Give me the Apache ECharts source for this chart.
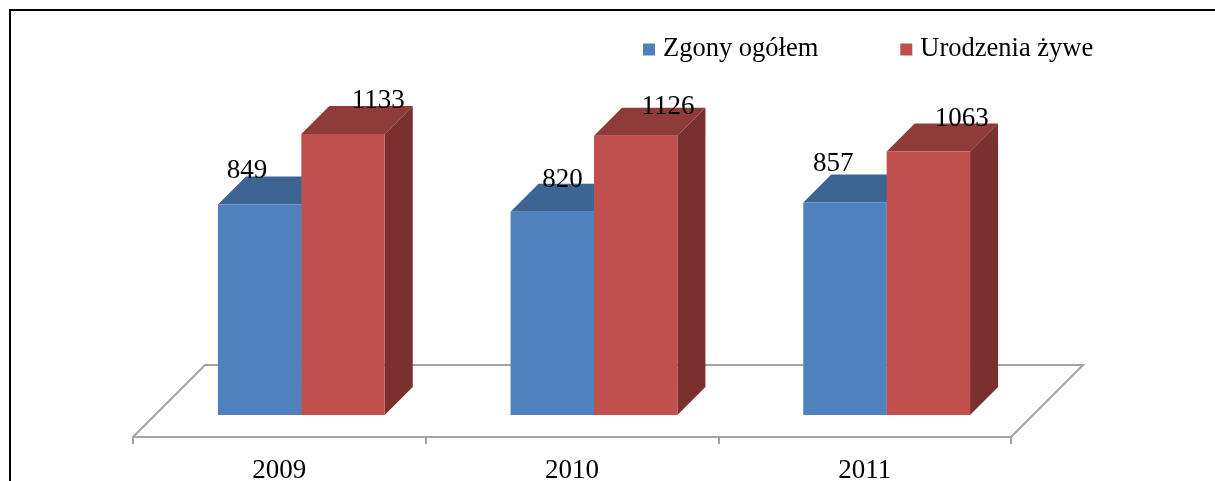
<!DOCTYPE html>
<html>
<head>
<meta charset="utf-8">
<style>
  html, body { margin: 0; padding: 0; background: #fff; }
  #chart { width: 1215px; height: 481px; }
</style>
<script src="https://cdn.jsdelivr.net/npm/echarts@6/dist/echarts.min.js"></script>
</head>
<body>
<div id="chart"></div>
<script>
// dane
var years = ['2009', '2010', '2011'];
var zgony = [849, 820, 857];
var urodzenia = [1133, 1126, 1063];

// przesuniecia etykiet wzgledem lewego gornego rogu slupka
var zgonyLabelShift = [[29, -34], [52, -32], [30, -39]];
var urodzeniaLabelShift = [[77, -33], [74, -29], [75, -32]];

var FONT = '"Liberation Serif", "Times New Roman", serif';
var FLOOR_DEPTH = 72;   // glebokosc podlogi
var BAR_INSET = 22;     // odleglosc slupka od przedniej krawedzi
var BAR_DEPTH = 28;     // glebokosc slupka
var BAR_BAND = 0.285;   // szerokosc slupka jako czesc kategorii

function barSeries(name, values, front, top, side, slot, shifts) {
  return {
    name: name,
    type: 'custom',
    coordinateSystem: 'cartesian2d',
    itemStyle: { color: front },
    encode: { x: 0, y: 1 },
    data: values.map(function (v, i) { return [i, v]; }),
    z: 2 + slot,
    renderItem: function (params, api) {
      var i = api.value(0);
      var w = api.size([1, 0])[0] * BAR_BAND;
      var base = api.coord([i, 0]);
      var head = api.coord([i, api.value(1)]);
      var x0 = base[0] + BAR_INSET - w + slot * w;
      var x1 = x0 + w;
      var y0 = base[1] - BAR_INSET;
      var y1 = head[1] - BAR_INSET;
      var d = BAR_DEPTH;
      return {
        type: 'group',
        children: [
          {
            type: 'polygon',
            shape: { points: [[x1, y0], [x1 + d, y0 - d], [x1 + d, y1 - d], [x1, y1]] },
            style: { fill: side }
          },
          {
            type: 'polygon',
            shape: { points: [[x0, y1], [x0 + d, y1 - d], [x1 + d, y1 - d], [x1, y1]] },
            style: { fill: top }
          },
          {
            type: 'rect',
            shape: { x: x0, y: y1, width: w, height: y0 - y1 },
            style: { fill: front }
          },
          {
            type: 'text',
            z2: 50,
            style: {
              x: x0 + shifts[i][0],
              y: y1 + shifts[i][1],
              text: String(api.value(1)),
              font: '27px ' + FONT,
              fill: '#000',
              align: 'center',
              verticalAlign: 'middle'
            }
          }
        ]
      };
    }
  };
}

var floorSeries = {
  name: 'floor',
  type: 'custom',
  coordinateSystem: 'cartesian2d',
  silent: true,
  data: [[0, 0]],
  z: 1,
  renderItem: function (params) {
    var c = params.coordSys;
    var yb = c.y + c.height;
    return {
      type: 'polyline',
      shape: {
        points: [
          [c.x, yb],
          [c.x + FLOOR_DEPTH, yb - FLOOR_DEPTH],
          [c.x + c.width + FLOOR_DEPTH, yb - FLOOR_DEPTH],
          [c.x + c.width, yb]
        ]
      },
      style: { fill: null, stroke: '#a3a3a3', lineWidth: 2 }
    };
  }
};

var chart = echarts.init(document.getElementById('chart'), null, { renderer: 'canvas' });

var option = {
  animation: false,
  backgroundColor: '#fff',
  legend: {
    data: ['Zgony ogółem', 'Urodzenia żywe'],
    left: 643,
    top: 36,
    padding: 0,
    icon: 'rect',
    itemWidth: 12,
    itemHeight: 12,
    itemGap: 82,
    textStyle: { fontFamily: FONT, fontSize: 26.5, color: '#000', padding: [0, 0, 0, 3] }
  },
  grid: { left: 133, top: 89.8, width: 878, height: 347.2, outerBoundsMode: 'none' },
  xAxis: {
    type: 'category',
    data: years,
    axisLine: { lineStyle: { color: '#a3a3a3', width: 2 } },
    axisTick: { show: true, length: 7, lineStyle: { color: '#a3a3a3', width: 2 } },
    axisLabel: { fontFamily: FONT, fontSize: 27, color: '#000', margin: 20 }
  },
  yAxis: {
    type: 'value',
    min: 0,
    max: 1400,
    show: false,
    splitLine: { show: false }
  },
  graphic: [
    {
      // ramka ucieta z prawej i od dolu
      type: 'polyline',
      shape: { points: [[10, 481], [10, 10], [1215, 10]] },
      style: { fill: null, stroke: '#000', lineWidth: 2 }
    }
  ],
  series: [
    floorSeries,
    barSeries('Zgony ogółem', zgony, '#4f81bd', '#3d6594', '#335478', 0, zgonyLabelShift),
    barSeries('Urodzenia żywe', urodzenia, '#c0504d', '#8f3b39', '#7a302e', 1, urodzeniaLabelShift)
  ]
};

chart.setOption(option);
</script>
</body>
</html>
